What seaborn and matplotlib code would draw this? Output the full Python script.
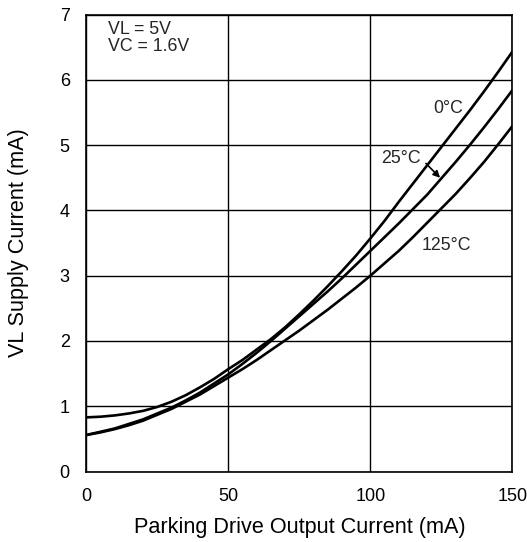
import numpy as np
import pandas as pd
import matplotlib
matplotlib.use("Agg")
import matplotlib.pyplot as plt
import seaborn as sns

# values
current_ma = [0, 5, 10, 15, 20, 25, 30, 35, 40, 45, 50, 55, 60, 65, 70, 75,
              80, 85, 90, 95, 100, 105, 110, 115, 120, 125, 130, 135, 140, 145, 150]
supply_0c = [0.83, 0.84, 0.86, 0.89, 0.93, 0.99, 1.07, 1.17, 1.29, 1.42, 1.57, 1.71,
             1.87, 2.03, 2.21, 2.41, 2.62, 2.84, 3.07, 3.31, 3.57, 3.84, 4.13, 4.41,
             4.69, 4.97, 5.25, 5.53, 5.82, 6.12, 6.43]
supply_25c = [0.56, 0.61, 0.66, 0.73, 0.80, 0.89, 0.98, 1.09, 1.21, 1.35, 1.49, 1.65,
              1.82, 2.00, 2.19, 2.38, 2.57, 2.76, 2.96, 3.17, 3.38, 3.59, 3.80, 4.02,
              4.24, 4.49, 4.74, 5.00, 5.27, 5.55, 5.84]
supply_125c = [0.56, 0.60, 0.65, 0.71, 0.78, 0.87, 0.96, 1.07, 1.18, 1.31, 1.44, 1.57,
               1.71, 1.86, 2.01, 2.16, 2.32, 2.48, 2.65, 2.82, 3.00, 3.19, 3.38, 3.59,
               3.81, 4.03, 4.25, 4.49, 4.74, 5.01, 5.29]
temps = ["0°C", "25°C", "125°C"]

df = pd.DataFrame({
    "current": current_ma * 3,
    "supply": supply_0c + supply_25c + supply_125c,
    "temp": [t for t in temps for _ in current_ma],
})

sns.set_style("white")
plt.rcParams["font.family"] = ["Liberation Sans", "DejaVu Sans"]

fig = plt.figure(figsize=(5.27, 5.42), dpi=100)
ax = fig.add_axes([0.164, 0.130, 0.808, 0.843])

sns.lineplot(data=df, x="current", y="supply", hue="temp",
             palette=["black"] * 3, linewidth=1.9, legend=False, ax=ax)

ax.set_xlim(0, 150)
ax.set_ylim(0, 7)
ax.set_xticks([0, 50, 100, 150])
ax.set_yticks(range(0, 8))
ax.grid(True, color="black", linewidth=1.0)
for s in ax.spines.values():
    s.set_color("black")
    s.set_linewidth(1.2)
ax.tick_params(length=0, labelsize=13, pad=12, colors="black")

ax.set_xlabel("Parking Drive Output Current (mA)", fontsize=15.6, color="black")
ax.set_ylabel("VL Supply Current (mA)", fontsize=15.6, color="black")
ax.xaxis.set_label_coords(0.5, -0.100)
ax.yaxis.set_label_coords(-0.135, 0.5)

ax.text(7.5, 6.90, "VL = 5V\nVC = 1.6V", fontsize=12.8, va="top", ha="left",
        linespacing=1.0)
ax.text(122.2, 5.56, "0°C", fontsize=12.8, va="center", ha="left")
ax.text(103.9, 4.80, "25°C", fontsize=12.8, va="center", ha="left")
ax.text(118.1, 3.47, "125°C", fontsize=12.8, va="center", ha="left")
ax.annotate("", xy=(124.6, 4.50), xytext=(119.6, 4.72),
            arrowprops=dict(arrowstyle="-|>", color="black", lw=1.2,
                            mutation_scale=10, shrinkA=0, shrinkB=0))

fig.savefig("out.png", dpi=100)
